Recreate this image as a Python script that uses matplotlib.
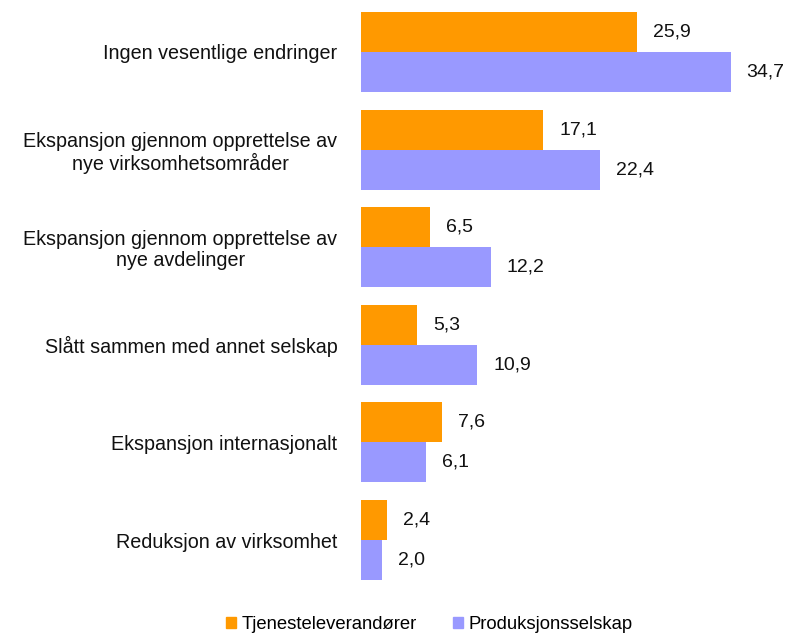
import matplotlib
matplotlib.use("Agg")
import matplotlib.pyplot as plt
import numpy as np
from matplotlib.patches import Patch

categories = [
    "Ingen vesentlige endringer",
    "Ekspansjon gjennom opprettelse av\nnye virksomhetsområder",
    "Ekspansjon gjennom opprettelse av\nnye avdelinger",
    "Slått sammen med annet selskap",
    "Ekspansjon internasjonalt",
    "Reduksjon av virksomhet",
]
tjeneste = [25.9, 17.1, 6.5, 5.3, 7.6, 2.4]
produksjon = [34.7, 22.4, 12.2, 10.9, 6.1, 2.0]
series_names = ["Tjenesteleverandører", "Produksjonsselskap"]
colors = ["#FF9900", "#9999FF"]

plt.rcParams['font.family'] = ['Liberation Sans', 'DejaVu Sans']

fig = plt.figure(figsize=(7.95, 6.42), dpi=100)
ax = fig.add_axes([361/795, 50/642, 426/795, 592/642])

y = np.arange(len(categories))
h = 0.41
b1 = ax.barh(y - h/2, tjeneste, height=h, color=colors[0])
b2 = ax.barh(y + h/2, produksjon, height=h, color=colors[1])

for bars, vals in ((b1, tjeneste), (b2, produksjon)):
    for bar, v in zip(bars, vals):
        ax.annotate(f"{v:.1f}".replace(".", ","),
                    xy=(bar.get_width(), bar.get_y() + bar.get_height()/2),
                    xytext=(16, 0), textcoords="offset pixels",
                    ha="left", va="center", fontsize=14, color="#111111")

ax.set_xlim(0, 40)
ax.set_ylim(5.41 + 12/97.8, -0.41 - 12/97.8)
ax.set_yticks(y)
ax.set_yticklabels(categories, fontsize=14.2, multialignment="center",
                   color="#111111", linespacing=1.15)
ax.tick_params(axis="y", length=0, pad=17)
ax.set_xticks([])
for s in ax.spines.values():
    s.set_visible(False)

handles = [Patch(color=c, label=n) for c, n in zip(colors, series_names)]
fig.legend(handles=handles, loc="lower center", bbox_to_anchor=(0.54, -0.012),
           ncol=2, frameon=False, fontsize=13.3, handlelength=0.5, handleheight=0.5,
           handletextpad=0.3, columnspacing=2.0)

fig.savefig("out.png", dpi=100)
